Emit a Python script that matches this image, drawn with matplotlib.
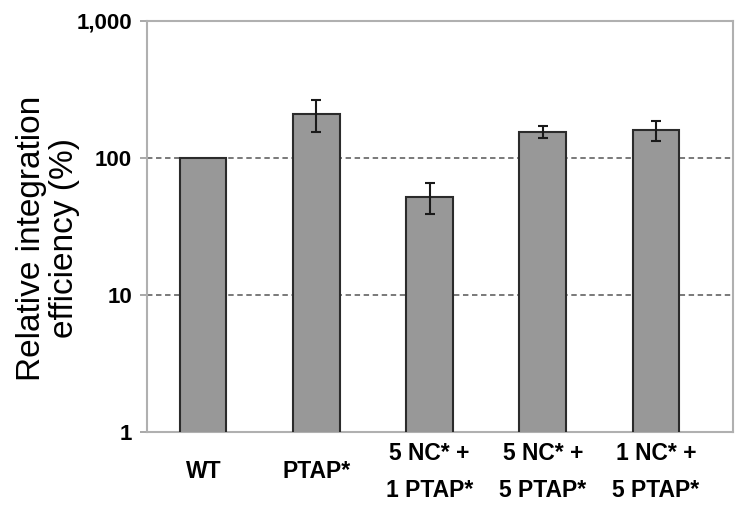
import matplotlib
matplotlib.use("Agg")
import matplotlib.pyplot as plt
from matplotlib.ticker import FixedLocator, NullLocator

categories = ["WT", "PTAP*", "5 NC* +\n1 PTAP*", "5 NC* +\n5 PTAP*", "1 NC* +\n5 PTAP*"]
values = [100, 208, 52, 155, 158]
errors = [0, 55, 13, 16, 26]
ytick_values = [1, 10, 100, 1000]
ytick_labels = ["1", "10", "100", "1,000"]

plt.rcParams['font.family'] = ['Liberation Sans', 'DejaVu Sans']

fig = plt.figure(figsize=(7.5, 5.13), dpi=100)
ax = fig.add_axes([0.1964, 0.1585, 0.977 - 0.1964, 0.9597 - 0.1585])

x = list(range(len(categories)))
ax.bar(x, values, width=0.41, color="#989898", edgecolor="#2b2b2b", linewidth=1.5, zorder=3)
err_x = [xi for xi, e in zip(x, errors) if e > 0]
err_v = [v for v, e in zip(values, errors) if e > 0]
err_e = [e for e in errors if e > 0]
ax.errorbar(err_x, err_v, yerr=err_e, fmt="none", ecolor="#1a1a1a", elinewidth=1.5,
            capsize=3.5, capthick=1.5, zorder=4)

ax.set_yscale("log")
ax.set_ylim(1, 1000)
ax.set_xlim(-0.495, 4.68)
ax.yaxis.set_major_locator(FixedLocator(ytick_values))
ax.yaxis.set_minor_locator(NullLocator())
ax.set_yticklabels(ytick_labels, fontsize=16, fontweight="bold")
ax.set_xticks(x)
ax.set_xticklabels(categories, fontsize=16.5, fontweight="bold", linespacing=1.75)
for lbl in ax.get_xticklabels():
    lbl.set_va("center")
ax.tick_params(axis="x", length=0, pad=29)
ax.tick_params(axis="y", length=5, width=1.2, color="#9a9a9a", pad=6, direction="out")

for yv in [10, 100]:
    ax.axhline(yv, color="#6e6e6e", linestyle=(0, (3, 2)), linewidth=1.3, zorder=1)

for s in ax.spines.values():
    s.set_color("#b0b0b0")
    s.set_linewidth(1.5)

fig.text(48 / 750, 1 - 238.5 / 513, "Relative integration\nefficiency (%)", rotation=90,
         ha="center", va="center", fontsize=24, linespacing=1.05, multialignment="center")

fig.savefig("out.png", dpi=100)
